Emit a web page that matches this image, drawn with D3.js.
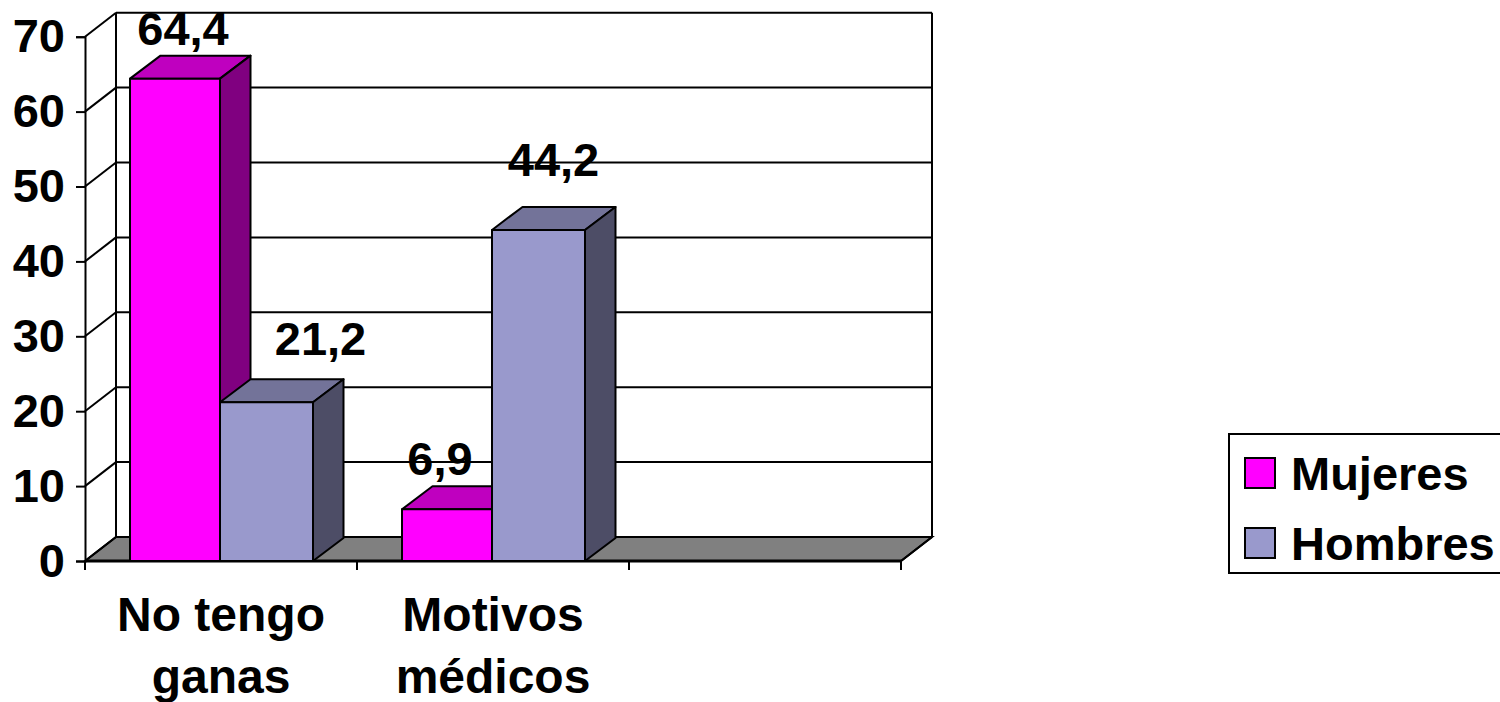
<!DOCTYPE html>
<html lang="es">
<head>
<meta charset="utf-8">
<title>No tengo ganas / Motivos médicos</title>
<style>
	html, body { margin: 0; padding: 0; background: #fff; overflow: hidden; }
	svg { display: block; }
	text { font-family: "Liberation Sans", Arial, sans-serif; font-weight: bold; fill: #000; }
</style>
</head>
<body>
<script src="https://d3js.org/d3.v7.min.js"></script>
<script>
// Chart data
var categories = ["No tengo ganas", "Motivos médicos", ""];
var categoryLines = [["No tengo", "ganas"], ["Motivos", "médicos"], []];
var seriesNames = ["Mujeres", "Hombres"];
var mujeres = [64.4, 6.9, null];
var hombres = [21.2, 44.2, null];
var yTicks = [0, 10, 20, 30, 40, 50, 60, 70];

// Size and 3D offsets
var w = 1500, h = 702;
var left = 85, right = 901, bottom = 561, top70 = 36.7;
var wallDx = 31, wallDy = -24;
var barDx = 30.5, barDy = -23;
var fontSize = 47;

var colors = {
	Mujeres: { front: "#ff00ff", top: "#bf00bf", side: "#800080" },
	Hombres: { front: "#9999cc", top: "#737399", side: "#4d4d66" }
};

var yScale = d3.scaleLinear().domain([0, 70]).range([bottom, top70]);
var xScale = d3.scaleBand().domain(categories).range([left, right]);
// Offset of each series inside its category, and how wide its bar is
var seriesX = d3.scaleOrdinal().domain(seriesNames).range([45, 135]);
var seriesW = d3.scaleOrdinal().domain(seriesNames).range([90, 93]);

var svg = d3.select("body").append("svg")
	.attr("width", w)
	.attr("height", h);

function line(g, x1, y1, x2, y2, sw) {
	g.append("line")
		.attr("x1", x1).attr("y1", y1)
		.attr("x2", x2).attr("y2", y2)
		.attr("stroke", "#000")
		.attr("stroke-width", sw || 2);
}

// Back wall, side wall and floor
var walls = svg.append("g");
walls.append("polygon")
	.attr("points", [
		[left, bottom], [right, bottom],
		[right + wallDx, bottom + wallDy], [left + wallDx, bottom + wallDy]
	].join(" "))
	.attr("fill", "#808080")
	.attr("stroke", "#000")
	.attr("stroke-width", 2);

yTicks.forEach(function(t) {
	var y = yScale(t);
	line(walls, left, y, left + wallDx, y + wallDy);
	line(walls, left + wallDx, y + wallDy, right + wallDx, y + wallDy);
});
line(walls, left + wallDx, bottom + wallDy, left + wallDx, top70 + wallDy);
line(walls, right + wallDx, bottom + wallDy, right + wallDx, top70 + wallDy);
line(walls, right, bottom, right + wallDx, bottom + wallDy);
line(walls, left, bottom, right, bottom, 3);

// Y axis
var yAxis = d3.axisLeft(yScale)
	.tickValues(yTicks)
	.tickSize(9)
	.tickPadding(11);

var yAxisG = svg.append("g")
	.attr("transform", "translate(" + left + ",0)")
	.call(yAxis);
yAxisG.selectAll("path, line").attr("stroke", "#000").attr("stroke-width", 2);
yAxisG.selectAll("text").attr("font-size", fontSize).attr("fill", "#000");
yAxisG.attr("font-family", null).attr("font-size", null);

// Category ticks sit on the band edges
var xEdges = categories.map(function(c) { return xScale(c); }).concat([right]);
xEdges.forEach(function(x) {
	line(svg, x, bottom, x, bottom + 9);
});

// Bars, drawn left to right so nearer faces cover the ones behind
function barData(catIndex) {
	return seriesNames.map(function(name, s) {
		return { name: name, value: (s === 0 ? mujeres : hombres)[catIndex], cat: categories[catIndex] };
	}).filter(function(d) { return d.value !== null; });
}

var bars = svg.append("g");
categories.forEach(function(c, i) {
	barData(i).forEach(function(d) {
		var x0 = xScale(d.cat) + seriesX(d.name);
		var x1 = x0 + seriesW(d.name);
		var yTop = yScale(d.value);
		var g = bars.append("g")
			.attr("stroke", "#000")
			.attr("stroke-width", 2)
			.attr("stroke-linejoin", "round");
		g.append("polygon")
			.attr("points", [[x0, yTop], [x0 + barDx, yTop + barDy], [x1 + barDx, yTop + barDy], [x1, yTop]].join(" "))
			.attr("fill", colors[d.name].top);
		g.append("polygon")
			.attr("points", [[x1, yTop], [x1 + barDx, yTop + barDy], [x1 + barDx, bottom + barDy], [x1, bottom]].join(" "))
			.attr("fill", colors[d.name].side);
		g.append("rect")
			.attr("x", x0)
			.attr("y", yTop)
			.attr("width", x1 - x0)
			.attr("height", bottom - yTop)
			.attr("fill", colors[d.name].front);
	});
});

// Value labels, nudged by hand per bar
var labelNudge = {
	"Mujeres0": [8, -34], "Hombres0": [54, -47],
	"Mujeres1": [-7, -34], "Hombres1": [15, -54]
};
categories.forEach(function(c, i) {
	barData(i).forEach(function(d) {
		var n = labelNudge[d.name + i];
		svg.append("text")
			.attr("x", xScale(d.cat) + seriesX(d.name) + seriesW(d.name) / 2 + n[0])
			.attr("y", yScale(d.value) + n[1])
			.attr("text-anchor", "middle")
			.attr("font-size", fontSize)
			.text(String(d.value).replace(".", ","));
	});
});

// Category labels
categories.forEach(function(c, i) {
	categoryLines[i].forEach(function(t, k) {
		svg.append("text")
			.attr("x", xScale(c) + xScale.bandwidth() / 2)
			.attr("y", 631 + k * 62)
			.attr("text-anchor", "middle")
			.attr("font-size", 48)
			.text(t);
	});
});

// Legend
var legend = svg.append("g");
legend.append("rect")
	.attr("x", 1229).attr("y", 434)
	.attr("width", 290).attr("height", 139)
	.attr("fill", "#fff")
	.attr("stroke", "#000")
	.attr("stroke-width", 2);
seriesNames.forEach(function(name, i) {
	legend.append("rect")
		.attr("x", 1245).attr("y", 458 + i * 70)
		.attr("width", 30).attr("height", 30)
		.attr("fill", colors[name].front)
		.attr("stroke", "#000")
		.attr("stroke-width", 2);
	legend.append("text")
		.attr("x", 1291).attr("y", 490 + i * 70)
		.attr("font-size", fontSize)
		.text(name);
});
</script>
</body>
</html>
